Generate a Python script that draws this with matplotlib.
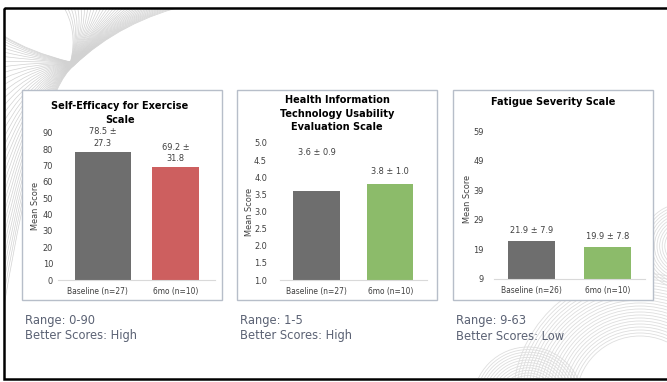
import numpy as np
import matplotlib
matplotlib.use("Agg")
import matplotlib.pyplot as plt
from matplotlib.patches import Rectangle, Circle, PathPatch
from matplotlib.path import Path

# ---- data ---------------------------------------------------------------
sees_categories = ["Baseline (n=27)", "6mo (n=10)"]
sees_means = [78.5, 69.2]
sees_sd = [27.3, 31.8]

hitue_categories = ["Baseline (n=27)", "6mo (n=10)"]
hitue_means = [3.6, 3.8]
hitue_sd = [0.9, 1.0]

fss_categories = ["Baseline (n=26)", "6mo (n=10)"]
fss_means = [21.9, 19.9]
fss_sd = [7.9, 7.8]

sees_ticks = [0, 10, 20, 30, 40, 50, 60, 70, 80, 90]
hitue_ticks = [1.0, 1.5, 2.0, 2.5, 3.0, 3.5, 4.0, 4.5, 5.0]
fss_ticks = [9, 19, 29, 39, 49, 59]

range_notes = ["Range: 0-90\nBetter Scores: High",
               "Range: 1-5\nBetter Scores: High",
               "Range: 9-63\nBetter Scores: Low"]

# ---- figure ---------------------------------------------------------------
W, H = 667, 382
plt.rcParams["font.family"] = ["DejaVu Sans"]
plt.rcParams["font.stretch"] = "condensed"
fig = plt.figure(figsize=(W / 100, H / 100), dpi=100)

GREY = "#6e6e6e"
RED = "#cd5f5f"
GREEN = "#8cbb6a"
TXT = "#404040"
NOTE = "#5b6274"

bg = fig.add_axes([0, 0, 1, 1])
bg.set_xlim(0, W)
bg.set_ylim(H, 0)
bg.axis("off")

frame = Rectangle((4, 8), W + 20, 371, fill=False, ec="black", lw=1.8, zorder=5)
bg.add_patch(frame)

clip = Rectangle((5, 9), W, 369, transform=bg.transData, visible=False)
bg.add_patch(clip)

# decorative swirl in the upper-left corner
n = 36
for t in np.linspace(0, 1, n):
    pinch = np.array([72.0 + (t - 0.5) * 3, 64.0 + (t - 0.5) * 4])
    left = np.array([4.0, 36 + 270 * t ** 1.6])
    top = np.array([62 + 130 * t, 4.0])
    ctrl_l = np.array([30 + 10 * t, 52 + 40 * t])
    ctrl_t = np.array([pinch[0] + 8 + 40 * t, 30 - 10 * t])
    path = Path([left, ctrl_l, pinch, ctrl_t, top],
                [Path.MOVETO, Path.CURVE3, Path.CURVE3, Path.CURVE3, Path.CURVE3])
    patch = PathPatch(path, fill=False, ec="#d2d2d2", lw=0.5, zorder=1)
    bg.add_patch(patch)
    patch.set_clip_path(clip)

# decorative rings in the lower-right corner
ring_sets = [((684, 246), np.arange(14, 44, 2.6)),
             ((528, 402), np.arange(16, 56, 2.6)),
             ((640, 400), np.arange(64, 130, 3.0))]
for centre, radii in ring_sets:
    for r in radii:
        ring = Circle(centre, r, fill=False, ec="#dedede", lw=0.6, zorder=1)
        bg.add_patch(ring)
        ring.set_clip_path(clip)

# panel boxes
panel_x = [(22, 222), (237, 437), (453, 653)]
for x0, x1 in panel_x:
    bg.add_patch(Rectangle((x0, 90), x1 - x0, 210, fc="white",
                           ec="#b7bec9", lw=1.0, zorder=2))


def px_axes(x0, x1, ytop, ybot):
    return fig.add_axes([x0 / W, 1 - ybot / H, (x1 - x0) / W, (ybot - ytop) / H])


panels = [
    dict(cats=sees_categories, means=sees_means, sd=sees_sd,
         ticks=sees_ticks, ylim=(0, 90), box=(58, 215, 132.7, 280),
         colors=[GREY, RED], wrap=True, lab_off=[4, 4],
         widths=[0.71, 0.60], shift=[0.07, 0.0], ypad=3.6,
         title="Self-Efficacy for Exercise\nScale", title_y=101, title_x=120,
         ylab_x=35),
    dict(cats=hitue_categories, means=hitue_means, sd=hitue_sd,
         ticks=hitue_ticks, ylim=(1, 5), box=(280, 427, 143, 280),
         colors=[GREY, GREEN], wrap=False, lab_off=[34, 8],
         widths=[0.64, 0.63], shift=[0.0, 0.0], ypad=9.4,
         title="Health Information\nTechnology Usability\nEvaluation Scale",
         title_y=95, title_x=337, ylab_x=250),
    dict(cats=fss_categories, means=fss_means, sd=fss_sd,
         ticks=fss_ticks, ylim=(9, 63), box=(494, 645, 119.2, 279),
         colors=[GREY, GREEN], wrap=False, lab_off=[6, 6],
         widths=[0.62, 0.62], shift=[0.0, 0.0], ypad=7.2,
         title="Fatigue Severity Scale", title_y=97, title_x=553, ylab_x=468),
]

for p in panels:
    x0, x1, yt, yb = p["box"]
    ax = px_axes(x0, x1, yt, yb)
    ax.set_zorder(3)
    ax.patch.set_alpha(0)
    xs = np.arange(len(p["cats"]))
    ax.bar(xs + np.array(p["shift"]), p["means"], width=p["widths"],
           color=p["colors"], zorder=2)
    ax.set_xlim(-0.5, 1.5)
    ax.set_ylim(*p["ylim"])
    ax.set_yticks(p["ticks"])
    ax.set_yticklabels([("{:.1f}" if isinstance(v, float) else "{}").format(v)
                        for v in p["ticks"]])
    ax.set_xticks(xs)
    ax.set_xticklabels(p["cats"])
    ax.tick_params(length=0, colors=TXT)
    ax.tick_params(axis="y", pad=p["ypad"], labelsize=6.6)
    ax.tick_params(axis="x", pad=5, labelsize=6.0)
    for s in ("top", "right", "left"):
        ax.spines[s].set_visible(False)
    ax.spines["bottom"].set_color("#d9d9d9")
    ax.spines["bottom"].set_linewidth(0.8)
    for i, (m, s) in enumerate(zip(p["means"], p["sd"])):
        sep = "\n" if p["wrap"] else " "
        txt = f"{m:.1f} \u00b1{sep}{s:.1f}"
        ax.annotate(txt, (i + p["shift"][i], m),
                    xytext=(0, p["lab_off"][i] * 0.72),
                    textcoords="offset points", ha="center", va="bottom",
                    fontsize=6.6, color=TXT, linespacing=1.3)
    fig.text(p["title_x"] / W, 1 - p["title_y"] / H, p["title"], ha="center",
             va="top", fontsize=7.8, fontweight="bold", color="black",
             linespacing=1.45)
    fig.text(p["ylab_x"] / W, 1 - ((yt + yb) / 2) / H, "Mean Score",
             rotation=90, ha="center", va="center", fontsize=6.6, color=TXT)

for (x0, _), note in zip(panel_x, range_notes):
    fig.text((x0 + 3) / W, 1 - 314 / H, note, ha="left", va="top",
             fontsize=8.3, color=NOTE, linespacing=1.25, stretch="normal")

fig.savefig("out.png", dpi=100, facecolor="white")
